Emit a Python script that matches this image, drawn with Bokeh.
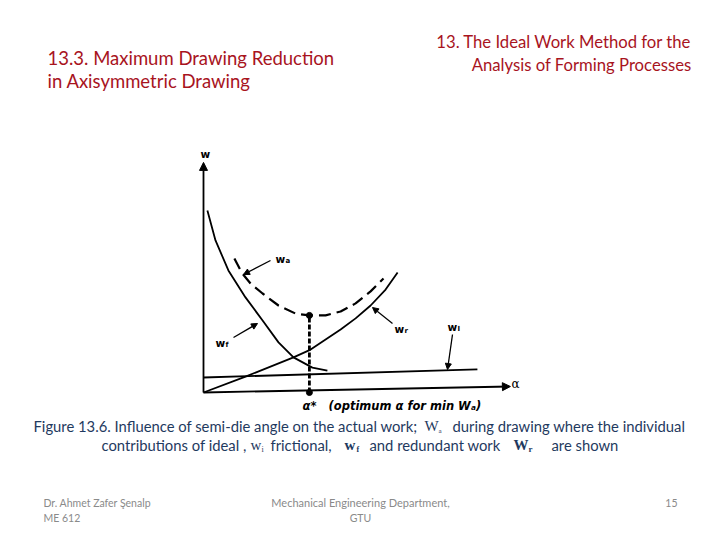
from bokeh.plotting import figure
from bokeh.models import Range1d, Label, Arrow, NormalHead
from bokeh.embed import file_html
from bokeh.resources import INLINE

# ---------------- data (chart units) ----------------
alpha_f = [0.13, 0.4, 0.83, 1.4, 1.97, 2.5, 3.0, 3.63, 4.13]
w_f = [6.07, 5.07, 4.07, 3.17, 2.4, 1.67, 1.17, 0.83, 0.73]

alpha_a = [1.03, 1.27, 1.57, 1.97, 2.5, 3.07, 3.53, 4.07, 4.57, 5.07, 5.57, 6.0]
w_a = [4.47, 4.0, 3.63, 3.3, 2.9, 2.63, 2.57, 2.57, 2.7, 2.97, 3.37, 3.8]

alpha_r = [0.0, 1.4, 3.0, 3.57, 4.57, 5.07, 5.57, 6.07, 6.47]
w_r = [0.0, 0.53, 1.17, 1.43, 2.1, 2.47, 2.9, 3.43, 4.0]

alpha_i = [0.0, 9.13]
w_i = [0.5, 0.77]

alpha_opt = [3.53, 3.53]
w_opt = [0.0, 2.57]

alpha_axis_end = 10.23
w_axis_end = 0.2
w_axis_top = 7.67

# ---------------- layout helpers (page pixel -> chart units) ----------------
OX, OY, S = 203.0, 392.0, 30.0


def X(px):
    return (px - OX) / S


def Y(py):
    return (OY - py) / S


p = figure(width=704, height=524,
           x_range=Range1d(X(0), X(704)), y_range=Range1d(Y(524), Y(0)),
           x_axis_type=None, y_axis_type=None,
           output_backend="svg", toolbar_location=None, min_border=0)
p.grid.visible = False
p.outline_line_color = None
p.background_fill_color = "white"
p.border_fill_color = "white"

# ---------------- axes of the sketch ----------------
p.add_layout(Arrow(end=NormalHead(size=8, fill_color="black", line_color="black"),
                   x_start=0, y_start=0, x_end=alpha_axis_end, y_end=w_axis_end,
                   line_width=1.8, line_color="black"))
p.add_layout(Arrow(end=NormalHead(size=8, fill_color="black", line_color="black"),
                   x_start=0, y_start=0, x_end=0, y_end=w_axis_top,
                   line_width=1.8, line_color="black"))

# ---------------- curves ----------------
p.line(alpha_f, w_f, line_color="black", line_width=1.8)
p.line(alpha_r, w_r, line_color="black", line_width=1.8)
p.line(alpha_i, w_i, line_color="black", line_width=1.8)
p.line(alpha_a, w_a, line_color="black", line_width=2.2, line_dash="12 6")
p.line(alpha_opt, w_opt, line_color="black", line_width=2.8, line_dash="5 2")
p.scatter(alpha_opt, w_opt, size=6, color="black")


# ---------------- labels inside the sketch ----------------
def add_label(px, py, text, size, font="DejaVu Sans", style="bold",
              align="left", baseline="middle", color="black"):
    p.add_layout(Label(x=X(px), y=Y(py), text=text, text_font=font,
                       text_font_size=f"{size}px", text_font_style=style,
                       text_align=align, text_baseline=baseline,
                       text_color=color))


def wsub(px, py, sub, size=10.5):
    add_label(px, py, "w", size)
    add_label(px + 10, py + 2, sub, size - 3.5)


add_label(200, 153, "w", 10.5)
wsub(275, 258, "a")
wsub(215, 342, "f")
wsub(394, 328, "r")
wsub(447, 326, "I")
add_label(511, 383, "α", 12, font="DejaVu Serif", style="normal")
add_label(302, 405, "α*", 11.5, style="bold italic")
add_label(328, 405, "(optimum α for min Wₐ)", 11.5, style="bold italic")


def pointer(x0, y0, x1, y1):
    p.add_layout(Arrow(end=NormalHead(size=6, fill_color="black", line_color="black"),
                       x_start=X(x0), y_start=Y(y0), x_end=X(x1), y_end=Y(y1),
                       line_width=1.3, line_color="black"))


pointer(270, 260, 243, 274)
pointer(233, 337, 257, 323)
pointer(392, 323, 372, 307)
pointer(452, 334, 447, 369)

# ---------------- slide texts ----------------
RED = "#a8141e"
NAVY = "#1f3a60"
GRAY = "#8a8a8a"
FONT = "Lato"

add_label(47, 57, "13.3. Maximum Drawing Reduction", 18.5, font=FONT, style="normal", color=RED)
add_label(47, 80, "in Axisymmetric Drawing", 18.5, font=FONT, style="normal", color=RED)
add_label(691, 41, "13. The Ideal Work Method for the", 16.7, font=FONT, style="normal",
          align="right", color=RED)
add_label(691, 64, "Analysis of Forming Processes", 16.7, font=FONT, style="normal",
          align="right", color=RED)

CS = 14.8
add_label(33, 425, "Figure 13.6. Influence of semi-die angle on the actual work;", CS,
          font=FONT, style="normal", color=NAVY)
add_label(424, 425, "W", 15, font="Liberation Serif", style="normal", color=NAVY)
add_label(438, 430, "a", 7, font="Liberation Serif", style="normal", color=NAVY)
add_label(452, 425, "during drawing where the individual", CS, font=FONT,
          style="normal", color=NAVY)

add_label(101, 444, "contributions of ideal ,", CS, font=FONT, style="normal", color=NAVY)
add_label(250, 444, "w", 15, font="Liberation Serif", style="normal", color=NAVY)
add_label(261, 449, "i", 8, font="Liberation Serif", style="normal", color=NAVY)
add_label(270, 444, "frictional,", CS, font=FONT, style="normal", color=NAVY)
add_label(344, 444, "w", 15, font="Liberation Serif", style="bold", color=NAVY)
add_label(356, 449, "f", 8, font="Liberation Serif", style="bold", color=NAVY)
add_label(369, 444, "and redundant work", CS, font=FONT, style="normal", color=NAVY)
add_label(513, 444, "W", 15, font="Liberation Serif", style="bold", color=NAVY)
add_label(528, 448, "r", 9, font="Liberation Serif", style="bold", color=NAVY)
add_label(551, 444, "are shown", CS, font=FONT, style="normal", color=NAVY)

FS = 10.5
add_label(43, 502, "Dr. Ahmet Zafer Şenalp", FS, font=FONT, style="normal", color=GRAY)
add_label(43, 517, "ME 612", FS, font=FONT, style="normal", color=GRAY)
add_label(360, 502, "Mechanical Engineering Department,", FS + 0.5, font=FONT, style="normal",
          align="center", color=GRAY)
add_label(360, 517, "GTU", FS, font=FONT, style="normal", align="center", color=GRAY)
add_label(677, 502, "15", FS, font=FONT, style="normal", align="right", color=GRAY)

open("out.html", "w").write(file_html(p, INLINE))
